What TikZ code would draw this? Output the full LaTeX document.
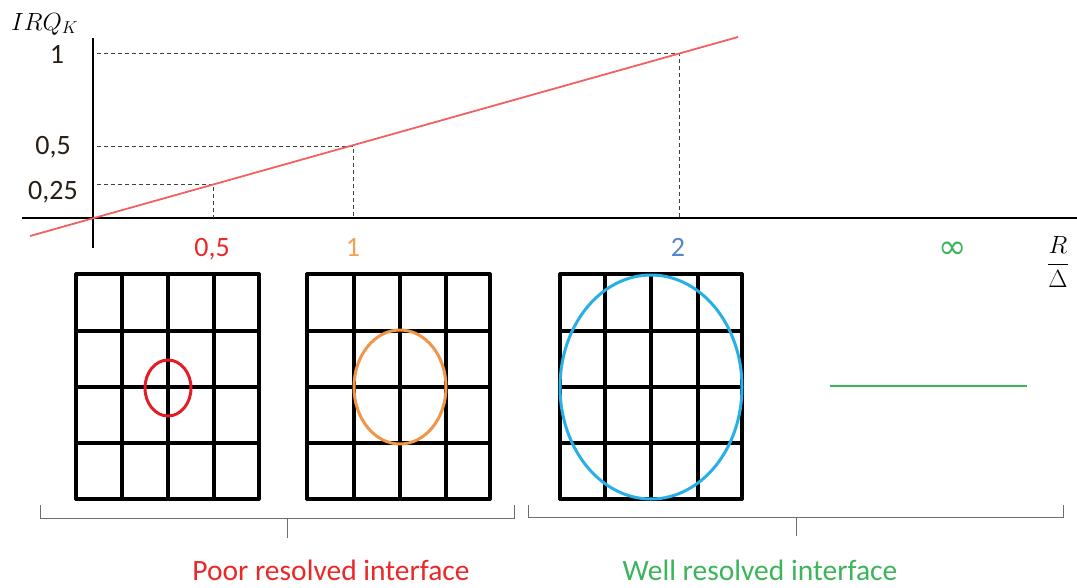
\documentclass[tikz,border=0pt]{standalone}
\usepackage{fontspec}
\setmainfont{Carlito}
\newfontfamily\symfont{DejaVu Sans}
\definecolor{lineRed}{RGB}{245,95,95}
\definecolor{labRed}{RGB}{235,40,40}
\definecolor{ellRed}{RGB}{228,28,38}
\definecolor{ellOrange}{RGB}{240,150,70}
\definecolor{labOrange}{RGB}{245,160,80}
\definecolor{ellBlue}{RGB}{40,175,230}
\definecolor{labBlue}{RGB}{85,135,205}
\definecolor{grn}{RGB}{60,180,90}
\definecolor{tickText}{RGB}{40,30,20}
\definecolor{brk}{RGB}{110,110,110}
\begin{document}
\begin{tikzpicture}[x=1pt,y=-1pt,
  axisline/.style={line width=2.6pt,black},
  guide/.style={line width=1pt,black!75,dash pattern=on 4pt off 3pt},
  gridline/.style={line width=3.2pt,black,line cap=round,line join=round},
  bracket/.style={line width=1pt,brk},
  lab/.style={inner sep=0pt,anchor=base,font=\fontsize{28}{30}\selectfont},
  bigtext/.style={inner sep=0pt,anchor=base,font=\fontsize{29.5}{32}\selectfont},
  ell/.style={line width=3pt}]
\useasboundingbox (0,0) rectangle (1077,587);

% axes
\coordinate (ytop) at (93,38);
\coordinate (ybot) at (93,248);
\coordinate (xleft) at (22,218);
\coordinate (xright) at (1077,218);
\draw[axisline] (ytop) -- (ybot);
\draw[axisline] (xleft) -- (xright);

% points on the line
\coordinate (p1) at (213,184);
\coordinate (p2) at (353,146);
\coordinate (p3) at (679,53);
\coordinate (q1) at (213,218);
\coordinate (q2) at (353,218);
\coordinate (q3) at (679,218);
\coordinate (h1) at (97,184);
\coordinate (h2) at (97,146);
\coordinate (h3) at (97,53);
\draw[guide] (h1) -- (p1) -- (q1);
\draw[guide] (h2) -- (p2) -- (q2);
\draw[guide] (h3) -- (p3) -- (q3);

\coordinate (lstart) at (30,236);
\coordinate (lend) at (738,37);
\draw[lineRed,line width=1.8pt] (lstart) -- (lend);

% axis labels
\node[inner sep=0pt,anchor=base west,font=\fontsize{23.5}{26}\selectfont] (ylab) at (11,30) {$IRQ_K$};
\node[inner sep=0pt,font=\fontsize{27}{30}\selectfont] (xlab) at (1058,262) {$\displaystyle\frac{R}{\Delta}$};

\node[lab,tickText] (t1) at (57,63) {1};
\node[lab,tickText] (t05) at (53,154) {0,5};
\node[lab,tickText] (t025) at (53,199) {0,25};

\node[lab,labRed] (x05) at (212,256) {0,5};
\node[lab,labOrange] (x1) at (353,256) {1};
\node[lab,labBlue] (x2) at (678,256) {2};
\node[inner sep=0pt,grn,font=\symfont\fontsize{34}{36}\selectfont] (xinf) at (953,250) {∞};

% grids
\foreach \gx in {{76,122,168,214,259},{307,354,400,446,490},{560,605,651,698,742}}{
  \foreach \x in \gx {
    \draw[gridline] (\x,274) -- (\x,499);
  }
}
\foreach \xa/\xb in {76/259,307/490,560/742}{
  \foreach \y in {274,331,387,443,499}{
    \draw[gridline] (\xa,\y) -- (\xb,\y);
  }
}

% interfaces
\draw[ell,ellRed] (168,388) ellipse [x radius=23, y radius=28];
\draw[ell,ellOrange] (400,387) ellipse [x radius=46, y radius=57];
\draw[ell,ellBlue] (651,387) ellipse [x radius=91, y radius=112];
\coordinate (g1) at (830,386);
\coordinate (g2) at (1027,386);
\draw[grn,line width=2.4pt] (g1) -- (g2);

% brackets
\coordinate (b1a) at (40,505);
\coordinate (b1b) at (40,518);
\coordinate (b1c) at (514,518);
\coordinate (b1d) at (514,505);
\coordinate (b1m) at (287,518);
\coordinate (b1t) at (287,538);
\draw[bracket] (b1a) -- (b1b) -- (b1c) -- (b1d);
\draw[bracket] (b1m) -- (b1t);
\coordinate (b2a) at (528,505);
\coordinate (b2b) at (528,517);
\coordinate (b2c) at (1063,517);
\coordinate (b2d) at (1063,505);
\coordinate (b2m) at (796,517);
\coordinate (b2t) at (796,536);
\draw[bracket] (b2a) -- (b2b) -- (b2c) -- (b2d);
\draw[bracket] (b2m) -- (b2t);

\node[bigtext,labRed] (poor) at (331,580) {Poor resolved interface};
\node[bigtext,grn] (well) at (760,580) {Well resolved interface};
\end{tikzpicture}
\end{document}
